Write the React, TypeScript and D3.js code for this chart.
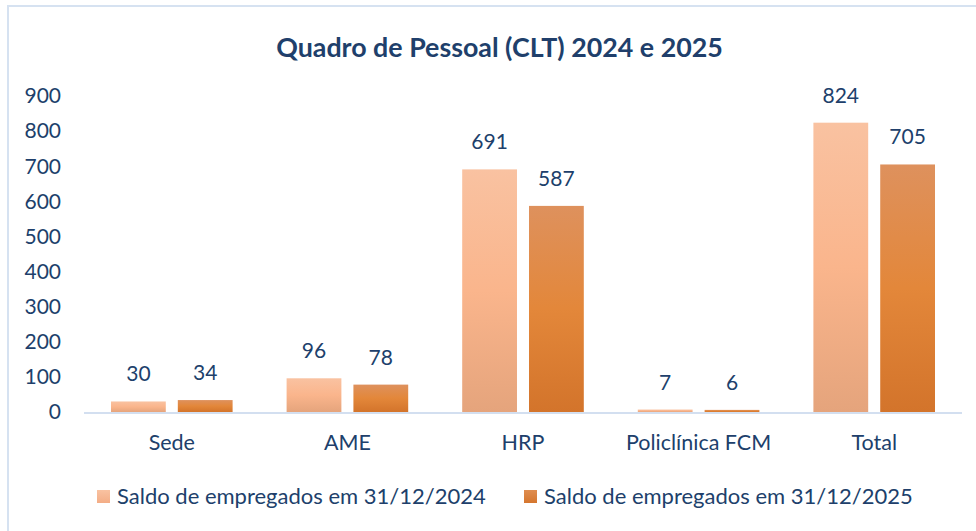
import React from "react";
import * as d3 from "d3";

const categories = ["Sede", "AME", "HRP", "Policlínica FCM", "Total"];
const series2024 = [30, 96, 691, 7, 824];
const series2025 = [34, 78, 587, 6, 705];
const seriesNames = ["Saldo de empregados em 31/12/2024", "Saldo de empregados em 31/12/2025"];
const yTicks = [0, 100, 200, 300, 400, 500, 600, 700, 800, 900];
const title = "Quadro de Pessoal (CLT) 2024 e 2025";

const W = 976;
const H = 531;
const FONT = "Lato, 'Noto Sans', sans-serif";
const TEXT = "#203f6b";

export default function App() {
  const x0 = d3.scaleBand<string>().domain(categories).range([84, 962]).paddingInner(0).paddingOuter(0);
  const y = d3.scaleLinear().domain([0, 900]).range([412, 96]);
  const inner = d3.scaleBand<number>().domain([0, 1]).range([27, x0.bandwidth() - 27]).paddingInner(0.18);
  const series = [series2024, series2025];
  const fills = ["url(#g2024)", "url(#g2025)"];

  return (
    <svg width={W} height={H} style={{ position: "absolute", left: 0, top: 0 }} fontFamily={FONT}>
      <defs>
        <linearGradient id="g2024" x1="0" y1="0" x2="0" y2="1">
          <stop offset="0" stopColor="#f9c2a1" />
          <stop offset="0.5" stopColor="#fab58c" />
          <stop offset="1" stopColor="#e5a47c" />
        </linearGradient>
        <linearGradient id="g2025" x1="0" y1="0" x2="0" y2="1">
          <stop offset="0" stopColor="#de915d" />
          <stop offset="0.5" stopColor="#e3873a" />
          <stop offset="1" stopColor="#d3742b" />
        </linearGradient>
        <linearGradient id="l2024" x1="0" y1="0" x2="0" y2="1">
          <stop offset="0" stopColor="#f9c2a1" />
          <stop offset="1" stopColor="#f3ad86" />
        </linearGradient>
        <linearGradient id="l2025" x1="0" y1="0" x2="0" y2="1">
          <stop offset="0" stopColor="#df8d50" />
          <stop offset="1" stopColor="#d5762e" />
        </linearGradient>
      </defs>
      <rect x={0} y={0} width={W} height={H} fill="#ffffff" />
      <rect x={8} y={6} width={W + 20} height={H + 20} fill="#ffffff" stroke="#d6e2f1" strokeWidth={2} />
      <text x={499.5} y={57} textAnchor="middle" fontSize={26.8} fontWeight={700} fill={TEXT}>
        {title}
      </text>
      {yTicks.map((t) => (
        <text key={t} x={61} y={y(t)} dy="0.35em" textAnchor="end" fontSize={21} fill={TEXT}>
          {t}
        </text>
      ))}
      {categories.map((c, i) => (
        <g key={c} transform={`translate(${x0(c)},0)`}>
          {series.map((s, j) => {
            const bx = inner(j)!;
            const bw = inner.bandwidth();
            return (
              <g key={j}>
                <rect x={bx} y={y(s[i])} width={bw} height={y(0) - y(s[i])} fill={fills[j]} />
                <text x={bx + bw / 2} y={y(s[i]) - 20} textAnchor="middle" fontSize={21} fill={TEXT}>
                  {s[i]}
                </text>
              </g>
            );
          })}
          <text x={x0.bandwidth() / 2} y={450} textAnchor="middle" fontSize={21.5} fill={TEXT}>
            {c}
          </text>
        </g>
      ))}
      <line x1={84} x2={962} y1={y(0) + 1} y2={y(0) + 1} stroke="#d3dff0" strokeWidth={2} />
      {seriesNames.map((n, j) => {
        const lx = j === 0 ? 97 : 524;
        return (
          <g key={n}>
            <rect x={lx} y={490} width={13} height={13} fill={j === 0 ? "url(#l2024)" : "url(#l2025)"} />
            <text x={lx + 20} y={504} fontSize={22} fill={TEXT}>
              {n}
            </text>
          </g>
        );
      })}
    </svg>
  );
}
